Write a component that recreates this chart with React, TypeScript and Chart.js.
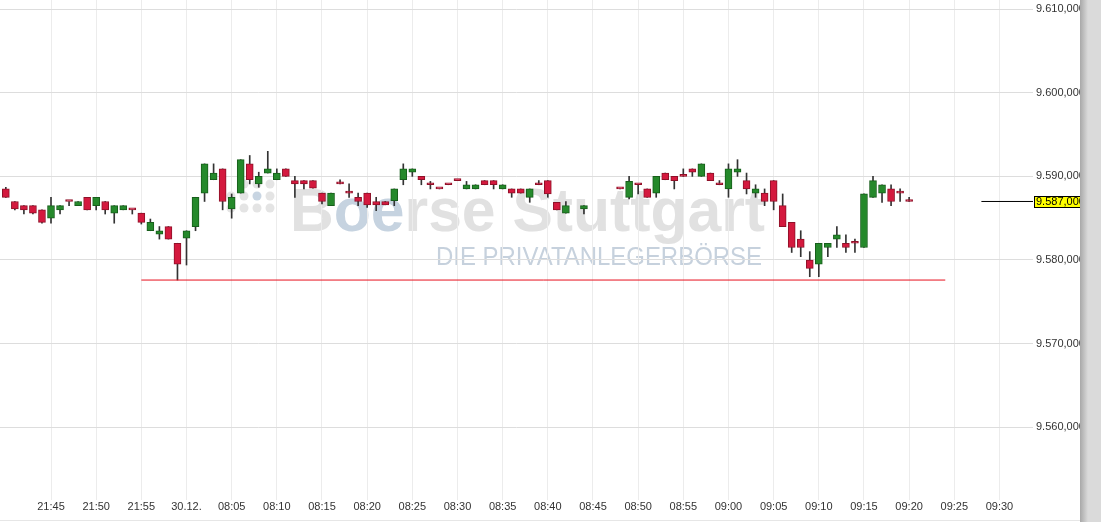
import React, { useEffect, useRef } from "react";
import { Chart, registerables } from "chart.js";

Chart.register(...registerables);

// ---- data -------------------------------------------------------------
const candleTimes = [
  "21:40", "21:41", "21:42", "21:43", "21:44", "21:45", "21:46", "21:47", "21:48", "21:49",
  "21:50", "21:51", "21:52", "21:53", "21:54", "21:55", "21:56", "21:57", "21:58", "21:59",
  "08:00", "08:01", "08:02", "08:03", "08:04", "08:05", "08:06", "08:07", "08:08", "08:09",
  "08:10", "08:11", "08:12", "08:13", "08:14", "08:15", "08:16", "08:17", "08:18", "08:19",
  "08:20", "08:21", "08:22", "08:23", "08:24", "08:25", "08:26", "08:27", "08:28", "08:29",
  "08:30", "08:31", "08:32", "08:33", "08:34", "08:35", "08:36", "08:37", "08:38", "08:39",
  "08:40", "08:41", "08:42", "08:44",
  "08:48", "08:49", "08:50", "08:51", "08:52", "08:53", "08:54", "08:55", "08:56", "08:57",
  "08:58", "08:59", "09:00", "09:01", "09:02", "09:03", "09:04", "09:05", "09:06", "09:07",
  "09:08", "09:09", "09:10", "09:11", "09:12", "09:13", "09:14", "09:15", "09:16", "09:17",
  "09:18", "09:19", "09:20",
];

const openValues = [
  9588.5, 9587.0, 9586.5, 9586.5, 9586.0, 9585.0, 9586.0, 9587.0, 9586.5, 9587.5,
  9586.5, 9587.0, 9585.6, 9586.0, 9586.0, 9585.6, 9583.5, 9583.1, 9584.0, 9582.0,
  9582.6, 9584.0, 9588.0, 9589.6, 9590.9, 9586.1, 9588.0, 9591.5, 9589.1, 9590.4,
  9589.6, 9590.9, 9589.5, 9589.5, 9589.5, 9588.0, 9586.5, 9589.1, 9588.0, 9587.5,
  9588.0, 9587.0, 9587.0, 9587.1, 9589.6, 9590.5, 9590.0, 9589.0, 9588.5, 9589.0,
  9589.5, 9588.5, 9588.5, 9589.5, 9589.5, 9588.5, 9588.5, 9588.5, 9587.5, 9589.0,
  9589.5, 9586.9, 9585.6, 9586.1,
  9588.5, 9587.5, 9589.0, 9588.5, 9588.0, 9590.4, 9590.0, 9590.0, 9590.9, 9590.0,
  9590.4, 9589.0, 9588.5, 9590.5, 9589.5, 9588.0, 9588.0, 9589.5, 9586.5, 9584.5,
  9582.5, 9580.0, 9579.5, 9581.5, 9582.5, 9582.0, 9582.0, 9581.5, 9587.5, 9588.0,
  9588.5, 9588.0, 9587.0,
];

const highValues = [
  9588.7, 9587.0, 9586.5, 9586.5, 9586.0, 9587.5, 9586.5, 9587.0, 9587.0, 9587.5,
  9587.5, 9587.0, 9586.5, 9586.5, 9586.0, 9585.6, 9584.9, 9584.0, 9584.0, 9582.0,
  9583.5, 9587.5, 9591.5, 9591.5, 9590.9, 9587.9, 9592.0, 9592.5, 9590.5, 9593.0,
  9590.9, 9590.9, 9590.0, 9589.5, 9589.5, 9588.0, 9588.0, 9589.6, 9589.1, 9588.0,
  9588.0, 9587.5, 9587.0, 9588.5, 9591.5, 9590.9, 9590.0, 9589.4, 9588.5, 9589.0,
  9589.5, 9589.4, 9589.0, 9589.5, 9589.5, 9589.0, 9588.5, 9588.5, 9588.5, 9589.5,
  9589.5, 9586.9, 9587.0, 9586.5,
  9588.5, 9590.0, 9589.0, 9588.5, 9590.0, 9590.4, 9590.0, 9590.9, 9590.9, 9591.5,
  9590.4, 9589.5, 9591.5, 9592.0, 9590.4, 9589.0, 9588.5, 9589.5, 9587.9, 9584.5,
  9583.5, 9581.0, 9582.0, 9582.0, 9584.0, 9583.0, 9582.5, 9587.9, 9590.0, 9589.0,
  9589.0, 9588.5, 9587.5,
];

const lowValues = [
  9587.5, 9586.0, 9585.5, 9585.5, 9584.4, 9584.4, 9585.5, 9586.5, 9586.5, 9586.0,
  9586.0, 9585.5, 9584.4, 9586.0, 9585.5, 9584.3, 9583.5, 9582.5, 9582.5, 9577.6,
  9579.4, 9583.5, 9587.0, 9589.6, 9586.0, 9585.0, 9588.0, 9589.1, 9588.7, 9590.4,
  9589.6, 9590.0, 9587.5, 9588.5, 9588.6, 9586.7, 9586.5, 9589.1, 9587.5, 9586.5,
  9586.3, 9585.9, 9586.6, 9586.5, 9589.0, 9590.0, 9589.0, 9588.5, 9588.5, 9589.0,
  9589.5, 9588.5, 9588.5, 9589.0, 9588.5, 9588.5, 9587.5, 9588.0, 9586.9, 9589.0,
  9587.5, 9586.0, 9585.6, 9585.5,
  9588.5, 9587.3, 9587.9, 9587.5, 9587.5, 9589.6, 9588.5, 9590.0, 9590.0, 9590.0,
  9589.5, 9589.0, 9587.5, 9590.0, 9587.9, 9587.5, 9586.5, 9586.0, 9584.0, 9580.9,
  9580.4, 9578.0, 9578.0, 9580.4, 9581.5, 9580.9, 9580.9, 9581.5, 9587.5, 9586.9,
  9586.5, 9587.0, 9587.0,
];

const closeValues = [
  9587.5, 9586.1, 9586.0, 9585.6, 9584.5, 9586.5, 9586.5, 9587.0, 9587.0, 9586.0,
  9587.5, 9586.0, 9586.5, 9586.5, 9586.0, 9584.5, 9584.5, 9583.5, 9582.5, 9579.5,
  9583.5, 9587.5, 9591.5, 9590.4, 9587.0, 9587.5, 9592.0, 9589.6, 9590.0, 9590.9,
  9590.4, 9590.0, 9589.1, 9589.1, 9588.6, 9587.0, 9588.0, 9589.1, 9588.0, 9587.0,
  9586.6, 9586.6, 9586.6, 9588.5, 9590.9, 9590.9, 9589.6, 9589.0, 9588.5, 9589.0,
  9589.5, 9589.0, 9589.0, 9589.0, 9589.0, 9589.0, 9588.0, 9588.0, 9588.5, 9589.0,
  9587.9, 9586.0, 9586.5, 9586.5,
  9588.5, 9589.4, 9589.0, 9587.5, 9590.0, 9589.6, 9589.5, 9590.0, 9590.5, 9591.5,
  9589.5, 9589.0, 9590.9, 9590.9, 9588.5, 9588.5, 9587.0, 9587.0, 9584.0, 9581.5,
  9581.5, 9579.0, 9582.0, 9582.0, 9583.0, 9581.5, 9582.0, 9587.9, 9589.5, 9589.0,
  9587.0, 9588.0, 9587.0,
];

const xTickLabels = [
  "21:45", "21:50", "21:55", "30.12.", "08:05", "08:10", "08:15", "08:20", "08:25", "08:30", "08:35",
  "08:40", "08:45", "08:50", "08:55", "09:00", "09:05", "09:10", "09:15", "09:20", "09:25", "09:30",
];
const yTickValues = [9560, 9570, 9580, 9590, 9600, 9610];

const supportLevel = 9577.6;
const supportStart = "21:55";
const supportEnd = "09:24";
const lastPrice = 9587.0;
const lastPriceLineStart = "09:28";

// ---- helpers ------------------------------------------------------------
function slotOf(t: string): number {
  if (t === "30.12.") return 15;
  const [h, m] = t.split(":").map(Number);
  const mins = h * 60 + m;
  if (h >= 21) return mins - (21 * 60 + 45);
  return 15 + mins - 8 * 60;
}

function formatDe(v: number): string {
  const [i, d] = v.toFixed(3).split(".");
  return i.replace(/\B(?=(\d{3})+(?!\d))/g, ".") + "," + d;
}

const FONT = '"Liberation Sans", Arial, sans-serif';
const GREEN = "#25892b";
const GREEN_B = "#175e1b";
const RED = "#d4193e";
const RED_B = "#8e1128";
const SUPPORT_COLOR = "#e8101e";

const tickSlots = xTickLabels.map(slotOf);
const labelBySlot: Record<number, string> = {};
xTickLabels.forEach((l, i) => (labelBySlot[tickSlots[i]] = l));

const watermarkPlugin = {
  id: "bg-watermark",
  beforeDraw(chart: any) {
    const ctx = chart.ctx as CanvasRenderingContext2D;
    ctx.save();
    ctx.fillStyle = "#ffffff";
    ctx.fillRect(0, 0, chart.width, chart.height);
    const dots: [number, number, boolean][] = [
      [244, 184, false], [257, 184, false], [270, 184, false],
      [231, 196, false], [244, 196, false], [257, 196, true], [270, 196, false],
      [231, 208, false], [244, 208, false], [257, 208, false], [270, 208, false],
    ];
    dots.forEach(([x, y, blue]) => {
      ctx.beginPath();
      ctx.arc(x, y, 4.5, 0, Math.PI * 2);
      ctx.fillStyle = blue ? "#c8d5e2" : "#e4e4e4";
      ctx.fill();
    });
    ctx.font = `bold 61px ${FONT}`;
    ctx.textBaseline = "alphabetic";
    const parts: [string, string][] = [["B", "#e1e1e1"], ["oe", "#c6d3e0"], ["rse Stuttgart", "#e1e1e1"]];
    const full = parts.map((p) => p[0]).join("");
    const w = ctx.measureText(full).width;
    const sx = 475 / w;
    ctx.save();
    ctx.translate(290, 231);
    ctx.scale(sx, 1);
    let x = 0;
    parts.forEach(([t, c]) => {
      ctx.fillStyle = c;
      ctx.fillText(t, x, 0);
      x += ctx.measureText(t).width;
    });
    ctx.restore();
    ctx.font = `25px ${FONT}`;
    const sub = "DIE PRIVATANLEGERBÖRSE";
    const w2 = ctx.measureText(sub).width;
    ctx.save();
    ctx.translate(436, 265);
    ctx.scale(326 / w2, 1);
    ctx.fillStyle = "#c6d1dd";
    ctx.fillText(sub, 0, 0);
    ctx.restore();
    ctx.restore();
  },
  afterDraw(chart: any) {
    const ctx = chart.ctx as CanvasRenderingContext2D;
    const yS = chart.scales.y;
    ctx.save();
    const y = Math.round(yS.getPixelForValue(lastPrice));
    ctx.fillStyle = "#ffff00";
    ctx.fillRect(1034, y - 5, 60, 11);
    ctx.strokeStyle = "#000";
    ctx.lineWidth = 1;
    ctx.strokeRect(1034.5, y - 4.5, 60, 11);
    ctx.fillStyle = "#000";
    ctx.font = `11px ${FONT}`;
    ctx.textBaseline = "middle";
    ctx.textAlign = "left";
    ctx.fillText(formatDe(lastPrice), 1036, y + 1);
    ctx.fillStyle = "#e6e6e6";
    ctx.fillRect(0, 520, 1080, 1);
    const g = ctx.createLinearGradient(1080, 0, 1088, 0);
    g.addColorStop(0, "#a8a8a8");
    g.addColorStop(1, "#dadada");
    ctx.fillStyle = g;
    ctx.fillRect(1080, 0, 8, chart.height);
    ctx.fillStyle = "#dadada";
    ctx.fillRect(1088, 0, chart.width - 1088, chart.height);
    ctx.restore();
  },
};

export default function App() {
  const ref = useRef<HTMLCanvasElement>(null);
  useEffect(() => {
    document.body.style.margin = "0";
    const canvas = ref.current!;
    const slots = candleTimes.map(slotOf);
    const bodies = slots.map((s, i) => ({ x: s, y: [openValues[i], closeValues[i]] }));
    const wicks = slots.map((s, i) => ({ x: s, y: [lowValues[i], highValues[i]] }));
    const up = slots.map((_, i) => closeValues[i] > openValues[i]);

    const pxPerSlot = 9.033;
    const xMin = -51 / pxPerSlot;
    const xMax = xMin + 1033 / pxPerSlot;
    const pxPerUnit = 8.36;
    const yMax = 9611.1;
    const yMin = yMax - 500 / pxPerUnit;

    const chart = new Chart(canvas, {
      type: "bar",
      data: {
        datasets: [
          {
            type: "line",
            data: [
              { x: slotOf(supportStart), y: supportLevel },
              { x: slotOf(supportEnd), y: supportLevel },
            ],
            borderColor: SUPPORT_COLOR,
            backgroundColor: SUPPORT_COLOR,
            segment: { borderColor: () => SUPPORT_COLOR },
            borderWidth: 1,
            pointRadius: 0,
            fill: false,
          } as any,
          {
            type: "line",
            data: [
              { x: slotOf(lastPriceLineStart), y: lastPrice },
              { x: 130, y: lastPrice },
            ],
            borderColor: "#000000",
            borderWidth: 1,
            pointRadius: 0,
            fill: false,
          } as any,
          {
            type: "bar",
            data: bodies as any,
            backgroundColor: up.map((u) => (u ? GREEN : RED)),
            borderColor: up.map((u) => (u ? GREEN_B : RED_B)),
            borderWidth: 1,
            borderSkipped: false,
            barThickness: 7,
            minBarLength: 2,
            grouped: false,
          } as any,
          {
            type: "bar",
            data: wicks as any,
            backgroundColor: "#333333",
            borderWidth: 0,
            barThickness: 1,
            grouped: false,
          } as any,
        ],
      },
      options: {
        animation: false,
        responsive: false,
        events: [],
        layout: { padding: 0 },
        plugins: { legend: { display: false }, tooltip: { enabled: false } },
        scales: {
          x: {
            type: "linear",
            min: xMin,
            max: xMax,
            offset: false,
            grid: { color: "#ececec", drawTicks: false, offset: false },
            border: { display: false },
            afterBuildTicks: (scale: any) => {
              scale.ticks = tickSlots.map((v) => ({ value: v }));
            },
            afterFit: (scale: any) => {
              scale.height = 22;
              scale.paddingLeft = 0;
              scale.paddingRight = 0;
            },
            ticks: {
              autoSkip: false,
              maxRotation: 0,
              padding: 0,
              color: "#333333",
              font: { family: FONT, size: 11 },
              callback: (v: any) => labelBySlot[v] ?? "",
            },
          },
          y: {
            type: "linear",
            position: "right",
            min: yMin,
            max: yMax,
            beginAtZero: false,
            grid: { color: "#dddddd", drawTicks: false },
            border: { display: false },
            afterBuildTicks: (scale: any) => {
              scale.ticks = yTickValues.map((v) => ({ value: v }));
            },
            afterFit: (scale: any) => {
              scale.width = 68;
              scale.paddingTop = 0;
              scale.paddingBottom = 0;
            },
            ticks: {
              padding: 3,
              color: "#333333",
              font: { family: FONT, size: 11 },
              callback: (v: any) => formatDe(Number(v)),
            },
          },
        },
      } as any,
      plugins: [watermarkPlugin],
    });
    return () => chart.destroy();
  }, []);
  return (
    <div style={{ position: "absolute", left: 0, top: 0, width: 1101, height: 522 }}>
      <canvas ref={ref} width={1101} height={522} style={{ display: "block", width: 1101, height: 522 }} />
    </div>
  );
}
